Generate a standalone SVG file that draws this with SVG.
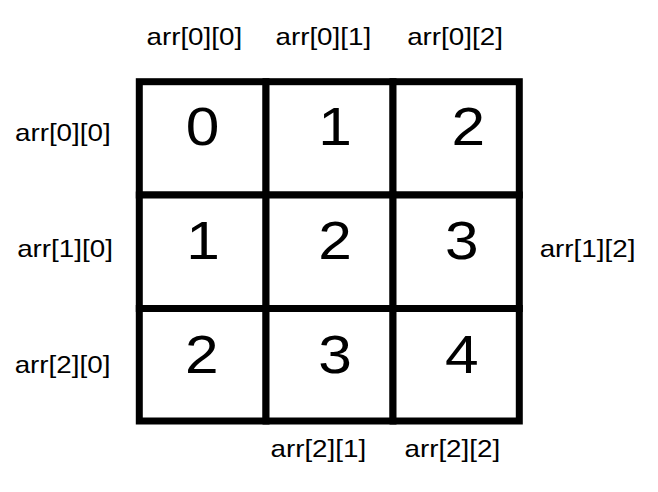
<svg xmlns="http://www.w3.org/2000/svg" width="658" height="492" viewBox="0 0 658 492">
<style>
.cell{fill:#fff;stroke:#000;stroke-width:7}
.num{font-family:"Liberation Sans",Arial,sans-serif;font-size:53.5px;text-anchor:middle;fill:#000}
.lbl{font-family:"Liberation Sans",Arial,sans-serif;font-size:24.6px;text-anchor:middle;fill:#000}
</style>
<rect width="658" height="492" fill="#fff"/>
<g id="cells">
<g id="cell-0-0"><rect class="cell" x="139.3" y="81.7" width="126.7" height="113.3"/><text class="num" transform="translate(202.5,145) scale(1.13,1)">0</text></g>
<g id="cell-0-1"><rect class="cell" x="266" y="81.7" width="127" height="113.3"/><text class="num" transform="translate(335,145) scale(1.13,1)">1</text></g>
<g id="cell-0-2"><rect class="cell" x="393" y="81.7" width="126.3" height="113.3"/><text class="num" transform="translate(468.3,145) scale(1.13,1)">2</text></g>
<g id="cell-1-0"><rect class="cell" x="139.3" y="195" width="126.7" height="113.5"/><text class="num" transform="translate(203,259.3) scale(1.13,1)">1</text></g>
<g id="cell-1-1"><rect class="cell" x="266" y="195" width="127" height="113.5"/><text class="num" transform="translate(335,259.3) scale(1.13,1)">2</text></g>
<g id="cell-1-2"><rect class="cell" x="393" y="195" width="126.3" height="113.5"/><text class="num" transform="translate(461.7,259.3) scale(1.13,1)">3</text></g>
<g id="cell-2-0"><rect class="cell" x="139.3" y="308.5" width="126.7" height="112.5"/><text class="num" transform="translate(201.7,372.7) scale(1.13,1)">2</text></g>
<g id="cell-2-1"><rect class="cell" x="266" y="308.5" width="127" height="112.5"/><text class="num" transform="translate(335,372.7) scale(1.13,1)">3</text></g>
<g id="cell-2-2"><rect class="cell" x="393" y="308.5" width="126.3" height="112.5"/><text class="num" transform="translate(461.7,372.7) scale(1.13,1)">4</text></g>
</g>
<g id="connectors"></g>
<g id="labels">
<g id="label-top-0"><text class="lbl" transform="translate(194.3,44.5) scale(1.13,1)">arr[0][0]</text></g>
<g id="label-top-1"><text class="lbl" transform="translate(323.3,44.5) scale(1.13,1)">arr[0][1]</text></g>
<g id="label-top-2"><text class="lbl" transform="translate(455,44.5) scale(1.13,1)">arr[0][2]</text></g>
<g id="label-left-0"><text class="lbl" transform="translate(62.8,141) scale(1.13,1)">arr[0][0]</text></g>
<g id="label-left-1"><text class="lbl" transform="translate(65,257.3) scale(1.13,1)">arr[1][0]</text></g>
<g id="label-left-2"><text class="lbl" transform="translate(62.5,373.3) scale(1.13,1)">arr[2][0]</text></g>
<g id="label-right-1"><text class="lbl" transform="translate(587.5,257.3) scale(1.13,1)">arr[1][2]</text></g>
<g id="label-bottom-1"><text class="lbl" transform="translate(318.3,457) scale(1.13,1)">arr[2][1]</text></g>
<g id="label-bottom-2"><text class="lbl" transform="translate(452.3,457) scale(1.13,1)">arr[2][2]</text></g>
</g>
</svg>
